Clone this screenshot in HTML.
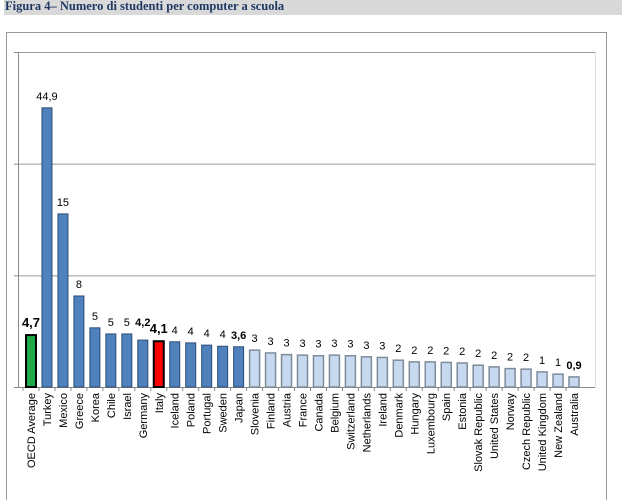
<!DOCTYPE html>
<html><head><meta charset="utf-8"><style>
body{margin:0;width:633px;height:500px;background:#fff;overflow:hidden;font-family:"Liberation Sans",sans-serif}
#title{position:absolute;left:4px;top:0;width:617px;height:15px;background:#d9d9d9;font:bold 12.5px "Liberation Serif",serif;color:#1f3864;line-height:13px;padding-left:1px}
svg{position:absolute;left:0;top:0}
</style></head><body>
<div id="title">Figura 4– Numero di studenti per computer a scuola</div>
<svg id="chart" width="633" height="500"></svg>
<script>
const categories=["OECD Average","Turkey","Mexico","Greece","Korea","Chile","Israel","Germany","Italy","Iceland","Poland","Portugal","Sweden","Japan","Slovenia","Finland","Austria","France","Canada","Belgium","Switzerland","Netherlands","Ireland","Denmark","Hungary","Luxembourg","Spain","Estonia","Slovak Republic","United States","Norway","Czech Republic","United Kingdom","New Zealand","Australia"];
const values=[9.3,50.0,31.0,16.3,10.6,9.5,9.5,8.4,8.2,8.1,7.9,7.5,7.3,7.2,6.6,6.1,5.8,5.7,5.6,5.7,5.6,5.4,5.3,4.8,4.5,4.5,4.4,4.3,3.9,3.6,3.3,3.2,2.7,2.3,1.8];
const valueLabels=["4,7","44,9","15","8","5","5","5","4,2","4,1","4","4","4","4","3,6","3","3","3","3","3","3","3","3","3","2","2","2","2","2","2","2","2","2","1","1","0,9"];
const boldLabels=["4,7","4,2","4,1","3,6","0,9"];
const yTicks=[0,20,40,60];
const svg=document.getElementById('chart');
const NS='http://www.w3.org/2000/svg';
const L=18,R=595,T=52,B=387,yMax=60;
const y=v=>B-(v/yMax)*(B-T);
const x0=31, x1=574;
const step=(x1-x0)/(categories.length-1);
const x=i=>x0+i*step;
function mk(t,a){const e=document.createElementNS(NS,t);for(const k in a)e.setAttribute(k,a[k]);svg.appendChild(e);return e;}
let e=mk('rect',{x:6.5,y:32.5,width:600,height:470,fill:'none',stroke:'#999'});

e=mk('rect',{x:L+0.5,y:T+0.5,width:R-L,height:B-T,fill:'none',stroke:'#ddd'});

yTicks.forEach(t=>{
 const g=mk('line',{x1:L,x2:R,y1:y(t)+0.5,y2:y(t)+0.5,stroke:t==0?'#888':'#999'});
 
 const k=mk('line',{x1:L-4,x2:L,y1:y(t)+0.5,y2:y(t)+0.5,stroke:'#888'});
 
});
e=mk('line',{x1:L+0.5,x2:L+0.5,y1:T,y2:B,stroke:'#888'});

categories.forEach((c,i)=>{
 const tk=mk('line',{x1:x(i)-step/2,x2:x(i)-step/2,y1:B,y2:B+4,stroke:'#888'});
 
 let fill='#4f81bd',stroke='#2c4d75',sw=1;
 if(i==0){fill='#1faa4a';stroke='#000';sw=2;}
 else if(c=='Italy'){fill='#ff0000';stroke='#000';sw=2;}
 else if(i>=14){fill='#c6d9f1';stroke='#7f8c99';sw=1.5;}
 const top=y(values[i]);
 const b=mk('rect',{x:x(i)-5,y:top,width:10,height:B-top,fill:fill,stroke:stroke,'stroke-width':sw});
 
 
 const bold=boldLabels.includes(valueLabels[i]);
 const big=(valueLabels[i]=='4,1'||valueLabels[i]=='4,7');
 const lt=mk('text',{x:x(i),y:top-(valueLabels[i]=='4,2'?14:8),'text-anchor':'middle','font-size':big?13:11,'font-weight':bold?'bold':'normal',fill:'#000'});
 lt.textContent=valueLabels[i];
 
 const xl=mk('text',{x:0,y:0,'text-anchor':'end','font-size':11,fill:'#000',transform:`translate(${x(i)+4},${B+6}) rotate(-90)`});
 xl.textContent=c;
 
});
</script>
</body></html>
